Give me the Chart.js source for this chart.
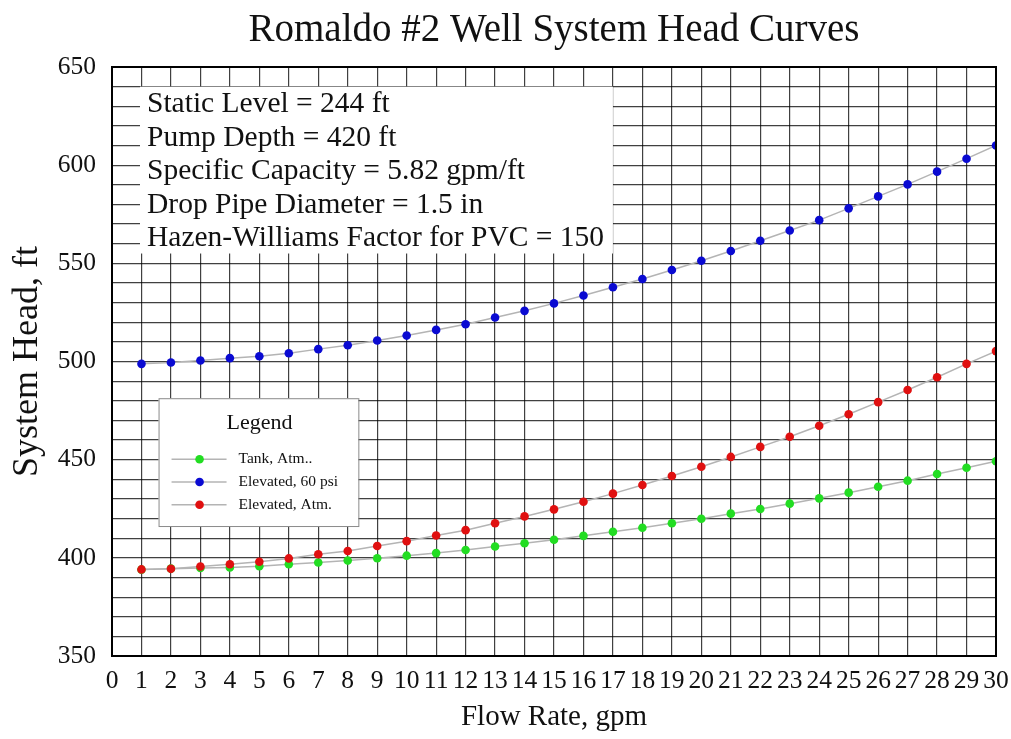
<!DOCTYPE html>
<html>
<head>
<meta charset="utf-8">
<script src="https://cdn.jsdelivr.net/npm/chart.js@4"></script>
<style>
  html, body { margin: 0; padding: 0; background: #fff; }
  #wrap { width: 1011px; height: 739px; }
</style>
</head>
<body>
<div id="wrap"><canvas id="headChart" width="1011" height="739"></canvas></div>
<script>
// flow rate in gpm
const flowRate = [1, 2, 3, 4, 5, 6, 7, 8, 9, 10, 11, 12, 13, 14, 15,
  16, 17, 18, 19, 20, 21, 22, 23, 24, 25, 26, 27, 28, 29, 30];

// system head, ft
const tankAtm = [394.0, 394.5, 394.8, 395.1, 395.7, 396.7, 397.6, 398.6, 399.8, 401.1,
  402.4, 404.0, 405.8, 407.4, 409.2, 411.2, 413.3, 415.3, 417.6, 419.9,
  422.5, 424.9, 427.6, 430.3, 433.2, 436.2, 439.3, 442.7, 445.9, 449.2];
const elevated60psi = [498.8, 499.5, 500.5, 501.7, 502.7, 504.2, 506.3, 508.3, 510.7, 513.2,
  516.1, 519.0, 522.4, 525.8, 529.6, 533.6, 537.8, 542.0, 546.6, 551.3,
  556.3, 561.5, 566.7, 572.0, 578.0, 584.1, 590.2, 596.7, 603.3, 610.0];
const elevatedAtm = [394.1, 394.4, 395.6, 396.7, 398.0, 399.7, 401.8, 403.5, 406.0, 408.5,
  411.4, 414.1, 417.6, 421.1, 424.7, 428.6, 432.7, 437.1, 441.7, 446.4,
  451.4, 456.5, 461.7, 467.3, 473.1, 479.3, 485.5, 492.0, 498.8, 505.3];

const seriesNames = ['Tank, Atm..', 'Elevated, 60 psi', 'Elevated, Atm.'];
const seriesColors = ['#22dd22', '#0a0ad2', '#e01010'];

const chartTitle = 'Romaldo #2 Well System Head Curves';
const infoLines = [
  'Static Level = 244 ft',
  'Pump Depth = 420 ft',
  'Specific Capacity = 5.82 gpm/ft',
  'Drop Pipe Diameter = 1.5 in',
  'Hazen-Williams Factor for PVC = 150'
];

const serif = "'Liberation Serif', 'Times New Roman', serif";

function pts(ys) {
  return flowRate.map((x, i) => ({ x: x, y: ys[i] }));
}

function makeSet(i, ys, order) {
  return {
    label: seriesNames[i],
    data: pts(ys),
    showLine: true,
    borderColor: '#b4b4b4',
    borderWidth: 1.5,
    pointRadius: 4.3,
    pointBorderWidth: 0,
    pointBackgroundColor: seriesColors[i],
    tension: 0,
    order: order
  };
}

// white box with well info, drawn over the grid
const infoBox = {
  id: 'infoBox',
  beforeDatasetsDraw(chart) {
    const { ctx, scales: { x, y } } = chart;
    const left = x.getPixelForValue(0.95), right = x.getPixelForValue(17);
    const top = y.getPixelForValue(640), bottom = y.getPixelForValue(555);
    ctx.save();
    ctx.fillStyle = '#fff';
    ctx.fillRect(left, top, right - left, bottom - top);
    ctx.fillStyle = '#111';
    ctx.font = '29.5px ' + serif;
    ctx.textBaseline = 'alphabetic';
    infoLines.forEach((t, i) => {
      ctx.fillText(t, 147, top + 25.5 + i * 33.5);
    });
    ctx.restore();
  }
};

// title, legend box and frame around the plot
const legendBox = {
  id: 'legendBox',
  afterDraw(chart) {
    const { ctx, chartArea: a, scales: { x, y } } = chart;
    ctx.save();
    ctx.strokeStyle = '#000';
    ctx.lineWidth = 2;
    ctx.strokeRect(a.left, a.top, a.right - a.left, a.bottom - a.top);

    ctx.fillStyle = '#111';
    ctx.font = '39px ' + serif;
    ctx.textAlign = 'center';
    ctx.textBaseline = 'middle';
    ctx.fillText(chartTitle, (a.left + a.right) / 2, 31);

    const left = x.getPixelForValue(1.58), right = x.getPixelForValue(8.36);
    const top = y.getPixelForValue(481.3), bottom = y.getPixelForValue(416.2);
    ctx.fillStyle = '#fff';
    ctx.fillRect(left, top, right - left, bottom - top);
    ctx.strokeStyle = '#8a8a8a';
    ctx.lineWidth = 1;
    ctx.strokeRect(left + 0.5, top + 0.5, right - left, bottom - top);

    ctx.fillStyle = '#111';
    ctx.font = '22px ' + serif;
    ctx.fillText('Legend', (left + right) / 2 + 1, top + 25);

    ctx.font = '15.5px ' + serif;
    ctx.textAlign = 'left';
    seriesNames.forEach((name, i) => {
      const ly = top + 61 + i * 22.8;
      ctx.strokeStyle = '#b4b4b4';
      ctx.lineWidth = 1.5;
      ctx.beginPath();
      ctx.moveTo(left + 13, ly);
      ctx.lineTo(left + 68, ly);
      ctx.stroke();
      ctx.fillStyle = seriesColors[i];
      ctx.beginPath();
      ctx.arc(left + 41, ly, 4.3, 0, Math.PI * 2);
      ctx.fill();
      ctx.fillStyle = '#111';
      ctx.fillText(name, left + 80, ly);
    });
    ctx.restore();
  }
};

new Chart(document.getElementById('headChart'), {
  type: 'scatter',
  data: {
    datasets: [
      makeSet(0, tankAtm, 2),
      makeSet(1, elevated60psi, 1),
      makeSet(2, elevatedAtm, 0)
    ]
  },
  options: {
    responsive: false,
    animation: false,
    layout: { padding: { left: 0, right: 15, top: 67, bottom: 0 } },
    plugins: {
      legend: { display: false },
      tooltip: { enabled: false }
    },
    scales: {
      x: {
        type: 'linear',
        min: 0,
        max: 30,
        grid: { color: 'rgba(0,0,0,0.75)', lineWidth: 1.2, drawTicks: false },
        border: { display: false },
        ticks: {
          stepSize: 1,
          autoSkip: false,
          maxRotation: 0,
          padding: 10,
          color: '#111',
          font: { family: serif, size: 25.5 }
        },
        title: {
          display: true,
          text: 'Flow Rate, gpm',
          color: '#111',
          font: { family: serif, size: 29 },
          padding: { top: 4 }
        },
        afterFit(scale) {
          scale.height = 83;
          scale.paddingLeft = 0;
          scale.paddingRight = 0;
        }
      },
      y: {
        type: 'linear',
        min: 350,
        max: 650,
        grid: { color: 'rgba(0,0,0,0.75)', lineWidth: 1.2, drawTicks: false },
        border: { display: false },
        ticks: {
          stepSize: 10,
          autoSkip: false,
          padding: 16,
          color: '#111',
          font: { family: serif, size: 25.5 },
          callback: v => (v % 50 === 0 ? v : '')
        },
        title: {
          display: true,
          text: 'System Head, ft',
          color: '#111',
          font: { family: serif, size: 36 },
          padding: { top: 6, bottom: 0 }
        },
        afterFit(scale) { scale.width = 112; }
      }
    }
  },
  plugins: [infoBox, legendBox]
});
</script>
</body>
</html>
